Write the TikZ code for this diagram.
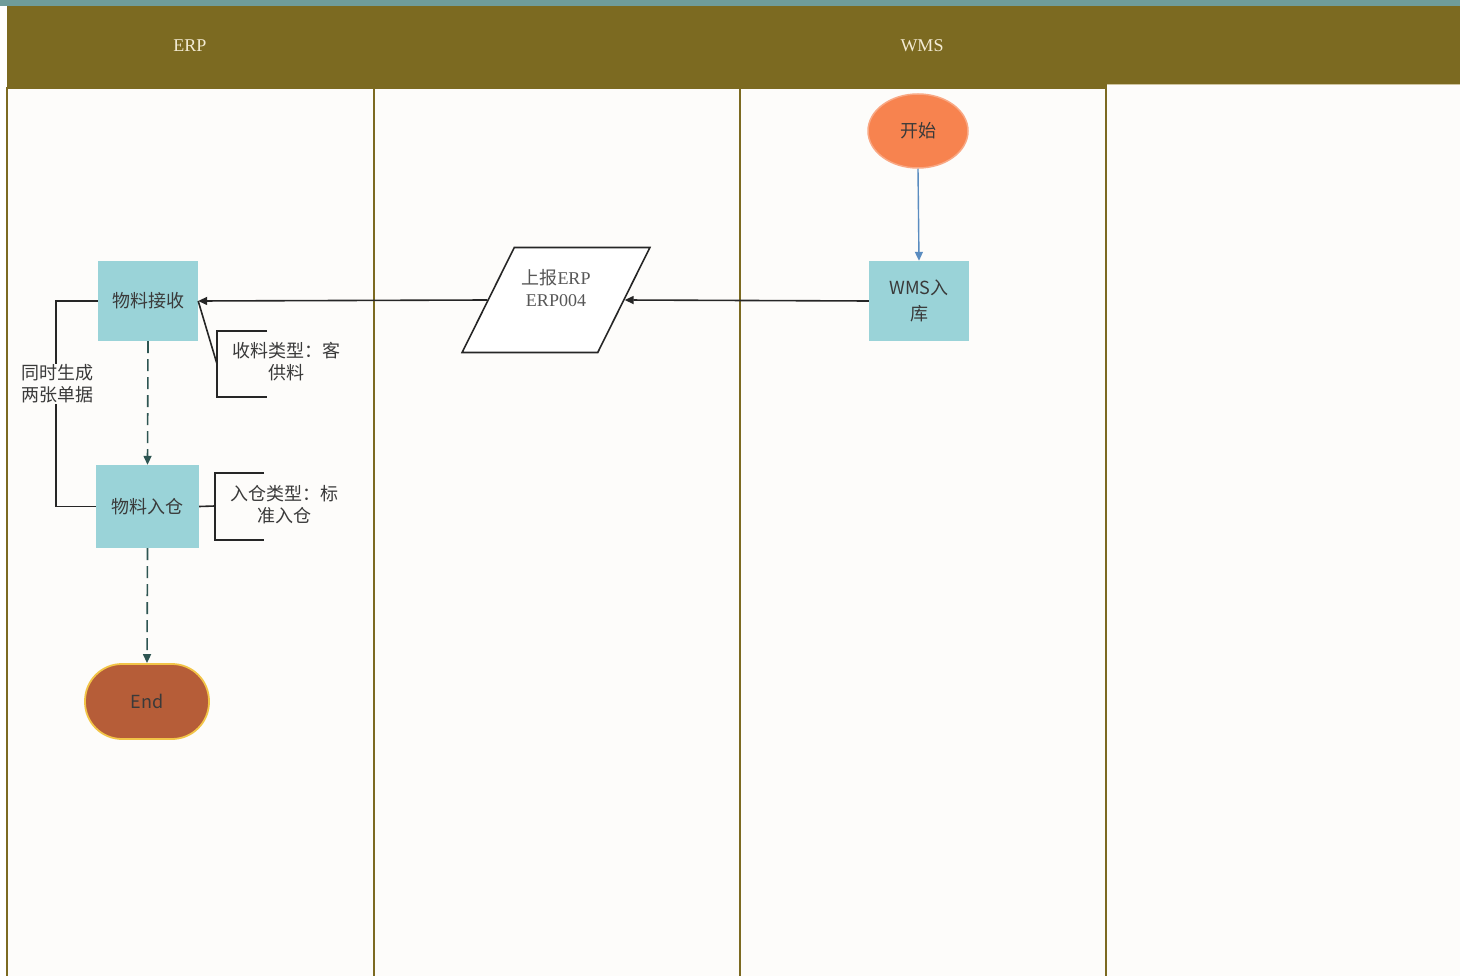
\documentclass[tikz,border=0pt]{standalone}
\usepackage{fontspec}
\setmainfont{Liberation Serif}
\newfontfamily\cjk{Noto Sans CJK SC}
\usetikzlibrary{shapes.geometric,arrows.meta}
\definecolor{stripteal}{HTML}{6F9C9A}
\definecolor{olivebar}{HTML}{7C6A21}
\definecolor{lanebg}{HTML}{FDFCFA}
\definecolor{boxfill}{HTML}{9AD3D8}
\definecolor{startorange}{HTML}{F7834F}
\definecolor{endbrown}{HTML}{B65D38}
\definecolor{endrim}{HTML}{F2C447}
\definecolor{flowblue}{HTML}{5A8CC0}
\definecolor{dashteal}{HTML}{2E5552}
\definecolor{txtgray}{HTML}{3A3A3A}
\definecolor{headtxt}{HTML}{F3EBD3}
\tikzset{
    lanebox/.style={draw=olivebar, line width=2pt, fill=lanebg},
    procbox/.style={rectangle, fill=boxfill, minimum width=100pt, minimum height=80pt,
        align=center, text=txtgray, font=\fontsize{18}{26}\selectfont\cjk},
    notetext/.style={align=center, text=txtgray, font=\fontsize{18}{22}\selectfont\cjk},
    flow/.style={-{Triangle[length=9pt,width=8pt]}, line width=1.6pt, draw=black!85},
    dashflow/.style={flow, draw=dashteal, dash pattern=on 12pt off 6pt},
    bracket/.style={line width=1.6pt, draw=black!85}
}
\begin{document}
\begin{tikzpicture}[x=1pt, y=-1pt]
    \useasboundingbox (0,0) rectangle (1460,976);
    \fill[white] (0,0) rectangle (1460,976);

    %%header
    \fill[stripteal] (0,0) rectangle (1460,6);
    \fill[olivebar] (7,6) rectangle (1460,88);
    \node[text=headtxt, font=\fontsize{18}{18}\selectfont] (erphead) at (190,46) {ERP};
    \node[text=headtxt, font=\fontsize{18}{18}\selectfont] (wmshead) at (922,46) {WMS};

    %%lanes
    \draw[lanebox] (7,88) rectangle (374,980);
    \draw[lanebox] (374,88) rectangle (740,980);
    \draw[lanebox] (740,88) rectangle (1106,980);
    \fill[lanebg] (1107,84) rectangle (1462,980);
    \draw[headtxt!70!olivebar, line width=1pt] (1107,84.5) -- (1460,84.5);

    %%WMS lane
    \node[ellipse, fill=startorange, draw=startorange!70!white, line width=1.5pt,
        minimum width=100pt, minimum height=74pt, text=txtgray,
        font=\fontsize{18}{22}\selectfont\cjk] (start) at (918,131) {开始};
    \node[procbox, font=\fontsize{18}{26}\selectfont\cjk] (wmsin) at (919,301) {WMS入\\库};
    \draw[flow, draw=flowblue, line width=1.4pt] (start.south) -- (wmsin.north);

    %%ERP lane
    \node[procbox] (recv) at (148,301) {物料接收};
    \node[procbox, minimum width=103pt, minimum height=83pt] (store) at (147.5,506.5) {物料入仓};
    \node[rectangle, rounded corners=37pt, fill=endbrown, draw=endrim, line width=1.8pt,
        minimum width=124pt, minimum height=75pt, text=txtgray,
        font=\fontsize{18}{22}\selectfont\cjk] (finish) at (147,701.5) {End};
    \draw[dashflow] (recv.south) -- (store.north);
    \draw[dashflow] (store.south) -- (finish.north);

    %%report
    \node[trapezium, trapezium left angle=58, trapezium right angle=122, trapezium stretches=true,
        minimum width=188pt, minimum height=105pt, draw=black!85, fill=white, line width=1.6pt]
        (report) at (556,300) {};
    \node[align=center, text=txtgray!85, font=\fontsize{18}{22}\selectfont] (reporttxt) at (556,288)
        {{\cjk 上报}ERP\\ERP004};
    \draw[flow] (wmsin.west) -- (report.east);
    \draw[flow] (report.west) -- (recv.east);

    %%twin
    \draw[bracket] (recv.west) -- ++(-42,0) |- (store.west);
    \node[notetext, fill=lanebg, inner sep=1pt] (twin) at (57,384) {同时生成\\两张单据};

    %%notes
    \coordinate (recvnote) at (217,364);
    \draw[bracket] (recv.east) -- (recvnote);
    \draw[bracket] (267,331) -| (217,397) -- (267,397);
    \node[notetext] (recvtype) at (286,362) {收料类型：客\\供料};

    \coordinate (storenote) at (215,506);
    \draw[bracket] (store.east) -- (storenote);
    \draw[bracket] (264,473) -| (215,540) -- (264,540);
    \node[notetext] (storetype) at (284,505) {入仓类型：标\\准入仓};
\end{tikzpicture}
\end{document}
